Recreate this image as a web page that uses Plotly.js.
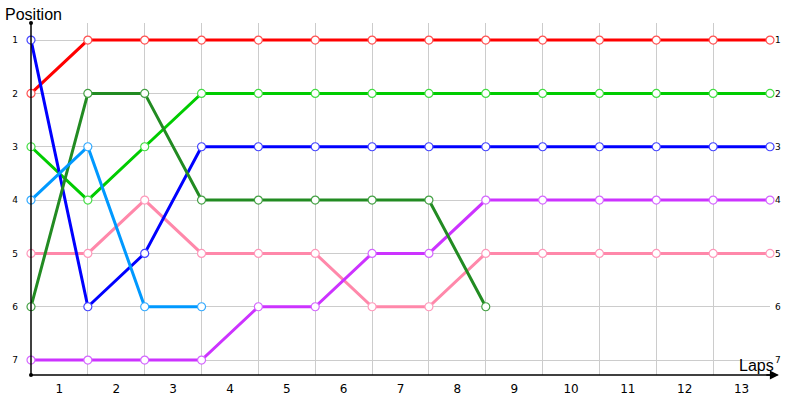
<!DOCTYPE html>
<html><head><meta charset="utf-8">
<script src="https://cdn.plot.ly/plotly-3.0.1.min.js"></script>
<style>body{margin:0;background:#fff}#c{width:800px;height:400px}</style>
</head><body><div id="c"></div>
<script>
// Lap boundaries (x) and positions (y)
var laps = [0,1,2,3,4,5,6,7,8,9,10,11,12,13];
var lapLabelPos = [0.5,1.5,2.5,3.5,4.5,5.5,6.5,7.5,8.5,9.5,10.5,11.5,12.5];
var lapLabels = ['1','2','3','4','5','6','7','8','9','10','11','12','13'];
var positions = [1,2,3,4,5,6,7];

var redPos        = [2,1,1,1,1,1,1,1,1,1,1,1,1,1];
var lightGreenPos = [3,4,3,2,2,2,2,2,2,2,2,2,2,2];
var pinkPos       = [5,5,4,5,5,5,6,6,5,5,5,5,5,5];
var purplePos     = [7,7,7,7,6,6,5,5,4,4,4,4,4,4];
var bluePos       = [1,6,5,3,3,3,3,3,3,3,3,3,3,3];
var darkGreenPos  = [6,2,2,4,4,4,4,4,6];
var lightBluePos  = [4,3,6,6];

var series = [
  {y: redPos, color: '#ff0000', mk: '#ff5050'},
  {y: lightGreenPos, color: '#00cc00', mk: '#44dd44'},
  {y: pinkPos, color: '#ff88aa', mk: '#ff99bb'},
  {y: purplePos, color: '#cc33ff', mk: '#d466ff'},
  {y: bluePos, color: '#0000ff', mk: '#4444ff'},
  {y: darkGreenPos, color: '#228b22', mk: '#44a044'},
  {y: lightBluePos, color: '#0099ff', mk: '#33aaff'}
];

var traces = series.map(function(s){
  return {
    x: laps.slice(0, s.y.length), y: s.y, type: 'scatter', mode: 'lines+markers',
    line: {color: s.color, width: 3},
    marker: {size: 8, color: '#ffffff', line: {color: s.mk, width: 1.2}},
    hoverinfo: 'none', cliponaxis: false
  };
});
// invisible trace to anchor right-side axis
traces.push({x: laps, y: redPos, yaxis: 'y2', type: 'scatter', mode: 'lines',
  line: {width: 0, color: 'rgba(0,0,0,0)'}, hoverinfo: 'none', showlegend: false});

var tickFam = 'DejaVu Sans, Verdana, sans-serif';
var titleFam = 'Liberation Sans, Arial, sans-serif';
var layout = {
  width: 800, height: 400,
  margin: {l: 31, r: 30, t: 23, b: 25},
  showlegend: false,
  paper_bgcolor: '#fff', plot_bgcolor: '#fff',
  font: {family: tickFam, color: '#000'},
  xaxis: {
    range: [0, 13], tickvals: lapLabelPos, ticktext: lapLabels,
    showgrid: false, zeroline: false, showline: false, ticks: '', ticklabelstandoff: 5,
    tickfont: {family: tickFam, size: 12, color: '#000'},
    minor: {tick0: 0, dtick: 1, showgrid: true, gridcolor: '#cccccc', gridwidth: 1, ticks: ''},
    fixedrange: true
  },
  yaxis: {
    range: [7.28, 0.68], tickvals: positions, ticktext: positions.map(String),
    showgrid: true, gridcolor: '#cccccc', gridwidth: 1, zeroline: false, showline: false,
    ticks: '', ticklabelstandoff: 12,
    tickfont: {family: tickFam, size: 9, color: '#000'},
    fixedrange: true
  },
  yaxis2: {
    overlaying: 'y', side: 'right', range: [7.28, 0.68],
    tickvals: positions, ticktext: positions.map(String),
    showgrid: false, zeroline: false, showline: false, ticks: '', ticklabelstandoff: 4,
    tickfont: {family: tickFam, size: 9, color: '#000'},
    fixedrange: true
  },
  shapes: [
    {type: 'line', xref: 'paper', yref: 'paper', x0: 0, x1: 0, y0: 0, y1: 1,
     line: {color: '#000', width: 1.5}, layer: 'above'},
    {type: 'line', xref: 'paper', yref: 'paper', x0: 0, x1: 1.01, y0: 0, y1: 0,
     line: {color: '#000', width: 1.5}, layer: 'above'},
    {type: 'circle', xref: 'paper', yref: 'paper', xsizemode: 'pixel', ysizemode: 'pixel',
     xanchor: 0, yanchor: 1, x0: -2, x1: 2, y0: -2, y1: 2,
     fillcolor: '#000', line: {width: 0}},
    {type: 'circle', xref: 'paper', yref: 'paper', xsizemode: 'pixel', ysizemode: 'pixel',
     xanchor: 0, yanchor: 0, x0: -2, x1: 2, y0: -2, y1: 2,
     fillcolor: '#000', line: {width: 0}}
  ],
  annotations: [
    {xref: 'paper', yref: 'paper', x: 1.012, y: 0, ax: -14, ay: 0, axref: 'pixel', ayref: 'pixel',
     showarrow: true, arrowhead: 2, arrowsize: 1.2, arrowwidth: 1.5, arrowcolor: '#000', text: ''},
    {xref: 'paper', yref: 'paper', x: -0.038, y: 1.023, xanchor: 'left', yanchor: 'middle',
     text: 'Position', showarrow: false, font: {family: titleFam, size: 16, color: '#000'}},
    {xref: 'paper', yref: 'paper', x: 1.008, y: 0.028, xanchor: 'right', yanchor: 'middle',
     text: 'Laps', showarrow: false, font: {family: titleFam, size: 16, color: '#000'}}
  ]
};

Plotly.newPlot('c', traces, layout, {displayModeBar: false, staticPlot: true});
</script>
</body></html>
